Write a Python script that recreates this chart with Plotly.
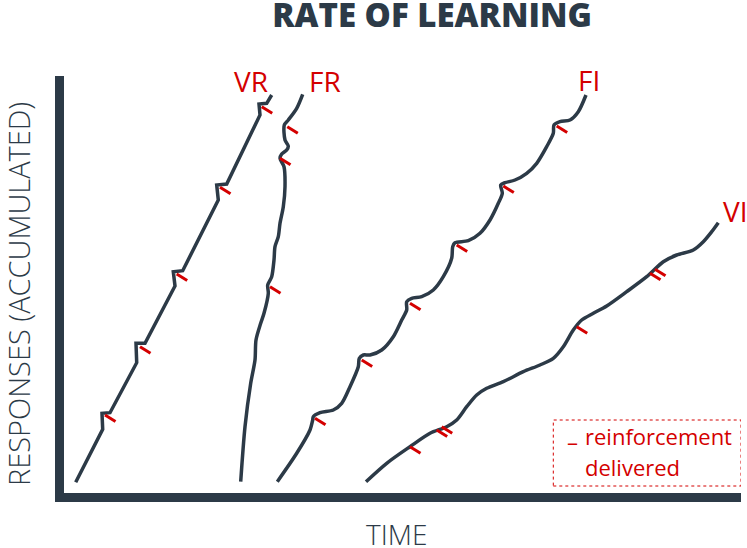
import plotly.graph_objects as go

# ---- data (time units, accumulated responses) ----
vr_time = [11.7, 38.7, 38.0, 46.0, 72.7, 72.0, 81.0, 111.0, 109.3, 118.7, 154.3, 152.7, 162.7, 196.0, 195.0, 202.7, 207.7]
vr_resp = [10.7, 63.7, 79.7, 80.3, 130.3, 149.7, 149.7, 207.0, 221.3, 222.3, 293.0, 308.0, 309.0, 378.0, 389.0, 389.7, 398.0]
vr_rf_time = [41.0, 76.0, 112.7, 156.0, 197.7]
vr_rf_resp = [78.0, 146.3, 219.0, 305.7, 386.3]

fr_time = [176.7, 181.0, 186.7, 191.0, 192.0, 196.7, 200.0, 204.3, 203.7, 207.7, 210.0, 211.0, 214.3, 216.0,
           219.3, 221.0, 220.0, 216.0, 217.7, 222.7, 224.3, 221.0, 220.3, 224.3, 232.7, 238.7]
fr_resp = [11.3, 66.3, 109.7, 133.0, 153.0, 169.7, 179.7, 199.7, 208.0, 216.3, 233.0, 246.3, 256.3, 269.7,
           286.3, 306.3, 326.3, 334.7, 339.0, 343.0, 347.0, 353.0, 368.0, 373.0, 384.7, 398.7]
fr_rf_time = [206.0, 216.0, 223.3]
fr_rf_resp = [206.3, 334.7, 366.3]

fi_time = [213.3, 232.7, 246.0, 248.7, 249.3, 256.0, 269.3, 277.7, 286.0, 294.3, 295.3, 299.3, 306.0, 317.7,
           329.3, 337.7, 342.7, 342.7, 347.7, 357.7, 369.3, 379.3, 387.7, 388.7, 391.0, 404.3, 416.0, 426.0,
           434.3, 438.3, 436.7, 441.0, 451.0, 462.7, 472.7, 482.7, 489.3, 490.0, 496.0, 506.0, 514.3, 522.0]
fi_resp = [11.3, 39.7, 63.0, 73.0, 76.3, 80.3, 83.0, 89.7, 106.3, 126.3, 134.7, 138.0, 138.0, 143.0,
           156.3, 173.0, 183.0, 191.3, 194.7, 196.3, 203.0, 216.3, 234.7, 246.3, 250.3, 252.3, 259.7, 273.0,
           289.7, 299.7, 308.0, 310.3, 313.0, 319.7, 329.7, 346.3, 359.7, 368.0, 371.3, 373.0, 381.3, 398.0]
fi_rf_time = [251.0, 297.7, 346.0, 392.7, 439.3, 492.7]
fi_rf_resp = [74.7, 133.0, 189.7, 248.0, 307.0, 367.0]

vi_time = [302.0, 322.7, 346.0, 366.0, 382.7, 392.7, 402.7, 412.7, 422.7, 439.3, 459.3, 476.0, 489.3,
           499.3, 509.3, 517.7, 529.3, 542.7, 562.7, 582.7, 599.3, 612.7, 629.3, 639.3, 647.7, 654.3]
vi_resp = [11.3, 29.7, 46.3, 59.7, 66.3, 73.0, 86.3, 98.0, 104.7, 111.3, 121.3, 128.0, 134.7,
           146.3, 163.0, 173.0, 179.7, 187.0, 201.3, 216.3, 231.3, 238.0, 243.0, 251.3, 261.3, 270.3]
vi_rf_time = [346.0, 372.7, 377.7, 512.7, 586.0, 591.0]
vi_rf_resp = [46.3, 63.0, 66.3, 166.3, 219.7, 223.7]

series_names = ["VR", "FR", "FI", "VI"]
label_time = [186.5, 261.0, 525.0, 671.0]
label_resp = [412.5, 412.5, 413.0, 282.0]

title_text = "RATE OF LEARNING"
x_title = "TIME"
y_title = "RESPONSES (ACCUMULATED)"
legend_lines = ["reinforcement", "delivered"]

# ---- style ----
DARK = "#2c3a47"
RED = "#d40000"
TICK_DX, TICK_DY = 10.5, -6.5

fig = go.Figure()

curves = [
    (vr_time, vr_resp, "linear"),
    (fr_time, fr_resp, "spline"),
    (fi_time, fi_resp, "spline"),
    (vi_time, vi_resp, "spline"),
]
rfs = [
    (vr_rf_time, vr_rf_resp),
    (fr_rf_time, fr_rf_resp),
    (fi_rf_time, fi_rf_resp),
    (vi_rf_time, vi_rf_resp),
]

for name, (xs, ys, shape) in zip(series_names, curves):
    line = dict(color=DARK, width=3.5, shape=shape)
    if shape == "spline":
        line["smoothing"] = 0.8
    fig.add_trace(go.Scatter(x=xs, y=ys, mode="lines", line=line, name=name,
                             showlegend=False, hoverinfo="skip", cliponaxis=False))

for name, (rx, ry) in zip(series_names, rfs):
    tx, ty = [], []
    for a, b in zip(rx, ry):
        tx += [a, a + TICK_DX, None]
        ty += [b, b + TICK_DY, None]
    fig.add_trace(go.Scatter(x=tx, y=ty, mode="lines", line=dict(color=RED, width=3),
                             showlegend=False, hoverinfo="skip", name=name + " reinforcement"))

annotations = []
for name, lx, ly in zip(series_names, label_time, label_resp):
    annotations.append(dict(x=lx, y=ly, xref="x", yref="y", text=name, showarrow=False,
                            font=dict(family="Open Sans", size=28, color=RED),
                            xanchor="center", yanchor="middle"))

# legend box text
annotations.append(dict(x=508, y=52, xref="x", yref="y", text="–", showarrow=False,
                        font=dict(family="Open Sans", size=22, color=RED), xanchor="center", yanchor="middle"))
annotations.append(dict(x=519, y=57, xref="x", yref="y", text=legend_lines[0], showarrow=False,
                        font=dict(family="Open Sans", size=22, color=RED), xanchor="left", yanchor="middle"))
annotations.append(dict(x=519, y=26, xref="x", yref="y", text=legend_lines[1], showarrow=False,
                        font=dict(family="Open Sans", size=22, color=RED), xanchor="left", yanchor="middle"))

# axis titles
annotations.append(dict(x=(18 - 64) / 677, y=(493 - 294) / 417, xref="paper", yref="paper", text=y_title,
                        textangle=-90, showarrow=False, xanchor="center", yanchor="middle",
                        font=dict(family="Open Sans", size=29, color=DARK, weight=300)))
annotations.append(dict(x=(396.5 - 64) / 677, y=(493 - 534) / 417, xref="paper", yref="paper", text=x_title,
                        showarrow=False, xanchor="center", yanchor="middle",
                        font=dict(family="Open Sans", size=28, color=DARK, weight=300)))

axis_common = dict(showline=True, linewidth=9, linecolor=DARK, showgrid=False, zeroline=False,
                   showticklabels=False, ticks="", fixedrange=True, automargin=False)

fig.update_layout(
    width=747, height=548,
    margin=dict(l=64, r=6, t=76, b=55, autoexpand=False),
    paper_bgcolor="white", plot_bgcolor="white",
    title=dict(text=title_text, x=432 / 747, xanchor="center", y=1 - 15 / 548, yanchor="middle",
               font=dict(family="Open Sans", size=33, color=DARK, weight=800)),
    xaxis=dict(range=[0, 677], **axis_common),
    yaxis=dict(range=[0, 417], **axis_common),
    shapes=[dict(type="rect", xref="x", yref="y", x0=489.3, x1=677, y0=7, y1=73,
                 line=dict(color=RED, width=1, dash="dot"), fillcolor="rgba(0,0,0,0)")],
    annotations=annotations,
)

fig.write_html("out.html", config={"displayModeBar": False},
               post_script="document.body.style.margin='0';document.body.style.overflow='hidden';")
